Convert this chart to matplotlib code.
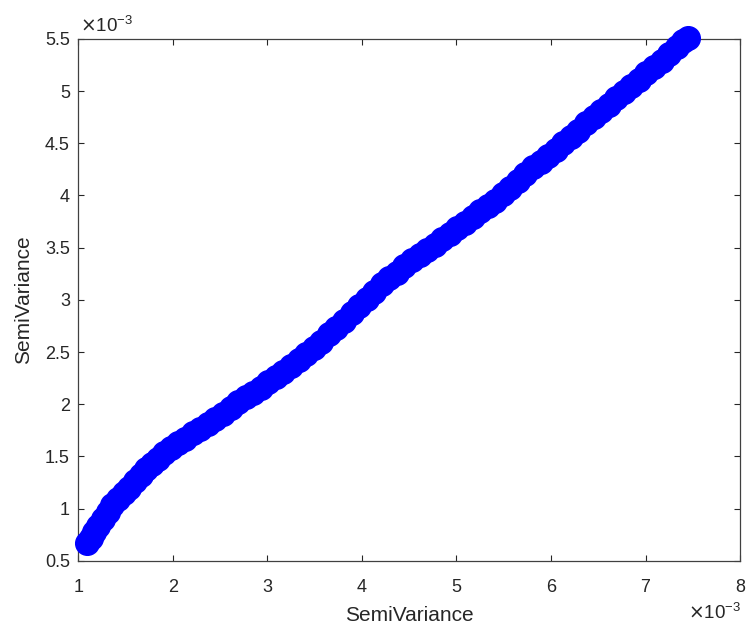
import matplotlib
matplotlib.use("Agg")
import matplotlib.pyplot as plt
from matplotlib.ticker import FuncFormatter
import numpy as np

# values, in units of 1e-3
sv_x = [1.09, 1.13, 1.17, 1.21, 1.26, 1.31, 1.36, 1.42, 1.48, 1.54, 1.60, 1.66, 1.72, 1.78,
        1.84, 1.91, 1.98, 2.05, 2.13, 2.21, 2.29, 2.37, 2.45, 2.53, 2.61, 2.69, 2.77, 2.85,
        2.93, 3.01, 3.09, 3.17, 3.25, 3.33, 3.41, 3.49, 3.57, 3.65, 3.73, 3.81, 3.89, 3.97,
        4.05, 4.13, 4.21, 4.29, 4.37, 4.45, 4.53, 4.61, 4.69, 4.77, 4.85, 4.93, 5.01, 5.09,
        5.17, 5.25, 5.33, 5.41, 5.49, 5.57, 5.65, 5.73, 5.81, 5.89, 5.97, 6.05, 6.13, 6.21,
        6.29, 6.37, 6.45, 6.53, 6.61, 6.69, 6.77, 6.85, 6.93, 7.01, 7.09, 7.17, 7.25, 7.33,
        7.40, 7.45]
sv_y = [0.67, 0.72, 0.78, 0.83, 0.90, 0.97, 1.03, 1.09, 1.15, 1.20, 1.26, 1.32, 1.38, 1.43,
        1.48, 1.53, 1.58, 1.63, 1.67, 1.72, 1.76, 1.81, 1.86, 1.91, 1.96, 2.02, 2.07, 2.11,
        2.16, 2.21, 2.26, 2.31, 2.37, 2.42, 2.48, 2.54, 2.60, 2.67, 2.73, 2.80, 2.87, 2.94,
        3.01, 3.08, 3.15, 3.21, 3.26, 3.32, 3.38, 3.43, 3.48, 3.53, 3.58, 3.63, 3.69, 3.74,
        3.79, 3.85, 3.90, 3.95, 4.01, 4.07, 4.14, 4.21, 4.27, 4.32, 4.38, 4.44, 4.50, 4.56,
        4.62, 4.69, 4.75, 4.81, 4.87, 4.93, 4.99, 5.05, 5.11, 5.17, 5.23, 5.29, 5.36, 5.42,
        5.48, 5.51]
x_ticks = [1, 2, 3, 4, 5, 6, 7, 8]
y_ticks = [0.5, 1, 1.5, 2, 2.5, 3, 3.5, 4, 4.5, 5, 5.5]

plt.rcParams["font.family"] = ["Liberation Sans", "DejaVu Sans"]
grey = "#262626"

fig = plt.figure(figsize=(7.46, 6.28), dpi=100)
ax = fig.add_axes([0.105, 0.107, 0.887, 0.831])
x = np.array(sv_x) * 1e-3
y = np.array(sv_y) * 1e-3
ax.scatter(x, y, s=290, c="#0000ff", edgecolors="#0000ff", linewidths=1, clip_on=False, zorder=3)

ax.set_xlim(1e-3, 8e-3); ax.set_ylim(0.5e-3, 5.5e-3)
ax.set_xticks(np.array(x_ticks) * 1e-3); ax.set_yticks(np.array(y_ticks) * 1e-3)
fmt = FuncFormatter(lambda v, p: f"{v * 1e3:g}")
ax.xaxis.set_major_formatter(fmt); ax.yaxis.set_major_formatter(fmt)
ax.tick_params(direction="in", top=True, right=True, length=4, width=0.8,
               colors=grey, labelsize=13, pad=6)
ax.tick_params(axis="x", pad=13)
for s in ax.spines.values():
    s.set_color("#404040"); s.set_linewidth(0.9)
ax.set_xlabel("SemiVariance", fontsize=15, color=grey)
ax.set_ylabel("SemiVariance", fontsize=15, color=grey)
ax.xaxis.set_label_coords(0.5, -0.086)
ax.yaxis.set_label_coords(-0.069, 0.5)
fig.text(0.107, 0.942, r"$\times\mathregular{10^{-3}}$", fontsize=13.5, color=grey, ha="left", va="bottom")
fig.text(0.994, 0.008, r"$\times\mathregular{10^{-3}}$", fontsize=13.5, color=grey, ha="right", va="bottom")

fig.savefig("out.png", dpi=100, facecolor="white")
